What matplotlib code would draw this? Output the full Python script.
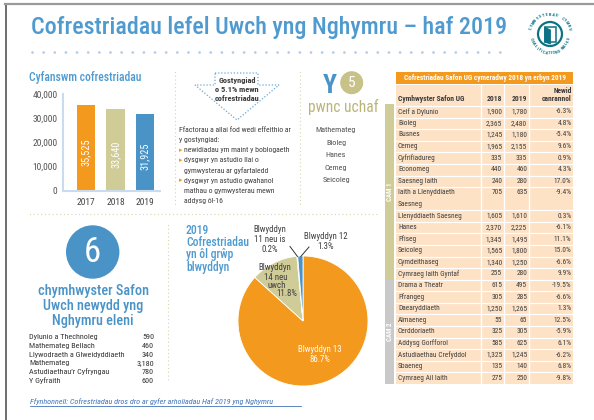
import os
import numpy as np
import matplotlib
matplotlib.use("Agg")
import matplotlib.pyplot as plt
from matplotlib import font_manager as fm
from matplotlib.font_manager import FontProperties
from matplotlib.patches import Rectangle, Circle, Polygon

years = ["2017", "2018", "2019"]
totals = [35525, 33640, 31925]
ytick_vals = [0, 10000, 20000, 30000, 40000]

top_subjects = ["Mathemateg", "Bioleg", "Hanes", "Cemeg", "Seicoleg"]

new_quals = ["Dylunio a Thechnoleg", "Mathemateg Bellach", "Llywodraeth a Glweidyddiaeth",
             "Mathemateg", "Astudiaethau\u2019r Cyfryngau", "Y Gyfraith"]
new_counts = [590, 460, 340, 3180, 780, 600]

pie_groups = ["Blwyddyn 13", "Blwyddyn 14 neu uwch", "Blwyddyn 11 neu is", "Blwyddyn 12"]
pie_shares = [86.7, 11.8, 0.2, 1.3]

subjects = ["Celf a Dylunio", "Bioleg", "Busnes", "Cemeg", "Cyfrifiadureg", "Economeg",
            "Saesneg Iaith", "Iaith a Llenyddiaeth\nSaesneg", "Llenyddiaeth Saesneg", "Hanes",
            "Ffiseg", "Seicoleg", "Cymdeithaseg", "Cymraeg Iaith Gyntaf", "Drama a Theatr",
            "Ffrangeg", "Daearyddiaeth", "Almaeneg", "Cerddoriaeth", "Addysg Gorfforol",
            "Astudiaethau Crefyddol", "Sbaeneg", "Cymraeg Ail Iaith"]
entries_2018 = [1900, 2365, 1245, 1965, 335, 440, 240, 705, 1605, 2370, 1345, 1565, 1340, 255,
                615, 305, 1250, 55, 325, 585, 1325, 135, 275]
entries_2019 = [1780, 2480, 1180, 2155, 335, 460, 280, 635, 1610, 2225, 1495, 1800, 1250, 280,
                495, 285, 1265, 65, 305, 625, 1245, 140, 250]
pct_change = [-6.3, 4.8, -5.4, 9.6, 0.9, 4.3, 17.0, -9.4, 0.3, -6.1, 11.1, 15.0, -6.6, 9.9,
              -19.5, -6.6, 1.3, 12.5, -5.9, 6.1, -6.2, 6.8, -9.8]
stage = [1] * 14 + [2] * 9

factors = [(None, "Ffactorau a allai fod wedi effeithio ar"), (None, "y gostyngiad:"),
           ("b", "newidiadau ym maint y boblogaeth"), ("b", "dysgwyr yn astudio llai o"),
           ("i", "gymwysterau ar gyfartaledd"), ("b", "dysgwyr yn astudio gwahanol"),
           ("i", "mathau o gymwysterau mewn"), ("i", "addysg \u00f4l-16")]

# ---- colours ----
TITLE_BLUE = "#4f9bd0"
BLUE = "#4a93c7"
ORANGE = "#f39a1e"
BEIGE = "#d0cc98"
OLIVE = "#bab47a"
PEACH = "#fde2c6"
GREY_STRIP = "#c9c9c9"
DARK = "#3c3c3c"
TEAL = "#0c7384"
SEP = "#d9d6ae"

# ---- pick a condensed face if one is installed ----
files = {os.path.splitext(os.path.basename(f.fname))[0].lower(): f.fname
         for f in fm.fontManager.ttflist}
face_sets = [
    ("notosans-condensed", "notosans-condensedmedium", "notosans-condensedbold", "notosans-condenseditalic"),
    ("robotocondensed-regular", "robotocondensed-medium", "robotocondensed-bold", "robotocondensed-italic"),
    ("liberationsansnarrow-regular", "liberationsansnarrow-regular", "liberationsansnarrow-bold", "liberationsansnarrow-italic"),
    ("dejavusanscondensed", "dejavusanscondensed", "dejavusanscondensed-bold", "dejavusanscondensed-oblique"),
]
FACES = None
for s in face_sets:
    if s[0] in files:
        FACES = {k: files.get(n, files[s[0]]) for k, n in zip(["reg", "med", "bold", "ital"], s)}
        break


def FP(kind, size):
    if FACES:
        return FontProperties(fname=FACES[kind], size=size)
    w = {"reg": "normal", "med": "normal", "bold": "bold", "ital": "normal"}[kind]
    st = "italic" if kind == "ital" else "normal"
    return FontProperties(family="DejaVu Sans", weight=w, style=st, size=size)


fig = plt.figure(figsize=(5.94, 4.2), dpi=100)
fig.patch.set_facecolor("white")

# charts first, the full-page layer goes on top (transparent)
ax = fig.add_axes([63 / 594, 1 - 190.7 / 420, (160 - 63) / 594, (190.7 - 94) / 420])
pax = fig.add_axes([238 / 594, 1 - 386 / 420, 130 / 594, 130 / 420])

bg = fig.add_axes([0, 0, 1, 1])
bg.set_zorder(5)
bg.patch.set_visible(False)
bg.set_xlim(0, 594)
bg.set_ylim(420, 0)
bg.axis("off")


def txt(x, y, s, size, color=DARK, kind="reg", ha="left", va="center", **kw):
    return bg.text(x, y, s, fontproperties=FP(kind, size), color=color, ha=ha, va=va, **kw)


def dotted(xs, ys, color=SEP, lw=1.0, gap=2.7):
    bg.plot(xs, ys, color=color, lw=lw, linestyle=(0, (0.01, gap)), dash_capstyle="round")


# frame
bg.plot([5.5, 5.5], [4, 420], color="#555555", lw=1.2)
bg.plot([5, 594], [3.5, 3.5], color="#9a9a9a", lw=1.6)

# title
txt(31, 34, "Cofrestriadau lefel Uwch yng Nghymru \u2013 haf 2019", 17.3, TITLE_BLUE, "med",
    va="baseline")
dotted([32, 506], [52, 52], color="#b3cde8", lw=2.0, gap=4.0)

# logo
cx, cy = 550, 34
bg.add_patch(Circle((cx, cy), 12, facecolor="white", edgecolor=TEAL, lw=1.6))
bg.add_patch(Rectangle((544.5, 27), 11.5, 15, facecolor="none", edgecolor=TEAL, lw=1.1))
bg.add_patch(Polygon([(544.5, 27), (550.5, 30), (550.5, 44), (544.5, 42)], closed=True,
                     facecolor=TEAL, edgecolor=TEAL, lw=0.6))


def arc_text(s, r, a0, a1, top):
    for ch, a in zip(s, np.linspace(a0, a1, len(s))):
        th = np.radians(a)
        rot = a - 90 if top else a + 90
        bg.text(cx + r * np.cos(th), cy - r * np.sin(th), ch, rotation=rot,
                rotation_mode="anchor", ha="center", va="center",
                fontproperties=FP("bold", 3.2), color=TEAL)


arc_text("CYMWYSTERAU CYMRU", 19.5, 165, 15, True)
arc_text("QUALIFICATIONS WALES", 19.5, 195, 345, False)

# separators
dotted([175, 175], [72, 205])
dotted([300, 300], [72, 205])
dotted([30, 377], [214, 214])
dotted([168, 168], [225, 383])

# ---- bar chart ----
txt(29, 77, "Cyfanswm cofrestriadau", 8.4, TITLE_BLUE, "med")
ax.patch.set_alpha(0)
xpos = np.arange(len(years))
ax.bar(xpos, totals, width=0.64, color=[ORANGE, BEIGE, BLUE], zorder=2)
ax.set_xlim(-0.78, 2.51)
ax.set_ylim(0, 40000)
ax.set_yticks(ytick_vals)
ax.set_yticklabels([f"{v:,}" for v in ytick_vals], fontproperties=FP("reg", 6.8), color="#555555")
ax.set_xticks(xpos)
ax.set_xticklabels(years, fontproperties=FP("reg", 6.8), color="#444444")
ax.tick_params(length=0, pad=4)
ax.tick_params(axis="x", pad=5)
for sp in ["top", "right"]:
    ax.spines[sp].set_visible(False)
for sp in ["left", "bottom"]:
    ax.spines[sp].set_color("#c9dcef")
    ax.spines[sp].set_linewidth(1.5)
for x, v in zip(xpos, totals):
    ax.text(x, v * 0.45, f"{v:,}", rotation=90, ha="center", va="center", color="white",
            fontproperties=FP("reg", 7.4))

# ---- decrease arrow ----
arrow = [(215, 73), (258, 73), (258, 85), (279, 85), (237, 120), (195, 85), (215, 85)]
bg.add_patch(Polygon(arrow, closed=True, facecolor="none", edgecolor="#6aa8d8", lw=0.9,
                     linestyle=(0, (1, 1.5))))
for i, s in enumerate(["Gostyngiad", "o 5.1% mewn", "cofrestriadau"]):
    txt(237, 80 + 9.2 * i, s, 6.0, DARK, "bold", ha="center")

for i, (mark, s) in enumerate(factors):
    y = 130 + 10.1 * i
    if mark == "b":
        bg.text(179, y, "\u25b8", fontsize=5, color=ORANGE, ha="left", va="center",
                family="DejaVu Sans")
    txt(179 if mark is None else 184.5, y, s, 5.6, DARK)

# ---- top 5 ----
txt(330, 93, "Y", 18.5, BLUE, "bold", ha="center", va="baseline")
bg.add_patch(Circle((351.7, 82.7), 10.8, color="#c8c288"))
txt(351.7, 83.2, "5", 11, "white", ha="center")
txt(343, 107, "pwnc uchaf", 11.2, OLIVE, ha="center")
for i, s in enumerate(top_subjects):
    txt(336, 130 + 12.6 * i, s, 5.9, "#505050", ha="center")

# ---- table ----
tx0, tx1 = 396, 573
cols = [480.7, 504.3, 529.3]
top, bottom = 106, 384
units = [2 if "\n" in s else 1 for s in subjects]
h = (bottom - top) / sum(units)
bg.add_patch(Rectangle((tx0, 71.5), tx1 - tx0, 12, color=ORANGE, lw=0))
txt((tx0 + tx1) / 2, 77.6, "Cofrestriadau Safon UG cymeradwy 2018 yn erbyn 2019", 5.2,
    "white", "bold", ha="center")
bg.add_patch(Rectangle((tx0, 84.5), tx1 - tx0, bottom - 84.5, color=PEACH, lw=0))
txt(398, 99, "Cymhwyster Safon UG", 5.4, DARK, "bold")
txt(502.3, 99, "2018", 5.4, DARK, "bold", ha="right")
txt(527.3, 99, "2019", 5.4, DARK, "bold", ha="right")
txt(571.5, 90.7, "Newid", 5.4, DARK, "bold", ha="right")
txt(571.5, 99, "canrannol", 5.4, DARK, "bold", ha="right")

y = top
stage_span = {}
for name, u, a, b, p, st in zip(subjects, units, entries_2018, entries_2019, pct_change, stage):
    bg.plot([tx0, tx1], [y, y], color="white", lw=0.9)
    lines = name.split("\n")
    for k, ln in enumerate(lines):
        txt(398, y + h * (k + 0.5), ln, 5.3, DARK)
    yc = y + h * 0.5
    txt(502.3, yc, f"{a:,}", 5.3, DARK, ha="right")
    txt(527.3, yc, f"{b:,}", 5.3, DARK, ha="right")
    txt(571.5, yc, f"{p:.1f}%", 5.3, DARK, ha="right")
    lo, hi = stage_span.get(st, (y, y))
    stage_span[st] = (min(lo, y), y + h * u)
    y += h * u
for cxl in cols:
    bg.plot([cxl, cxl], [84.5, bottom], color="white", lw=1.0)

for st, col in [(1, BEIGE), (2, GREY_STRIP)]:
    lo, hi = stage_span[st]
    if st == 1:
        lo = 104
    bg.add_patch(Rectangle((385, lo), 9, hi - lo, color=col, lw=0))
    txt(389.5, (lo + hi) / 2, f"CAM {st}", 5.0, "white", "bold", ha="center", rotation=90)

# ---- new qualifications ----
bg.add_patch(Circle((92.7, 252), 26, color=BLUE))
txt(92.7, 253, "6", 25, "white", ha="center")
for i, s in enumerate(["chymhwyster Safon", "Uwch newydd yng", "Nghymru eleni"]):
    txt(93, 291 + 14.8 * i, s, 10.3, BLUE, "med", ha="center")
for i, (q, n) in enumerate(zip(new_quals, new_counts)):
    yy = 337.3 + 8.7 * i
    txt(29, yy, q, 5.9, "#333333")
    txt(154, yy, f"{n:,}", 5.9, "#333333", ha="right")

# ---- pie ----
for i, s in enumerate(["2019", "Cofrestriadau", "yn \u00f4l gr\u0175p", "blwyddyn"]):
    txt(186, 230 + 12.4 * i, s, 8.4, TITLE_BLUE, "med")
pax.pie(pie_shares, colors=[ORANGE, BEIGE, "#2f5f8c", BLUE], startangle=90, counterclock=False,
        wedgeprops=dict(edgecolor="white", linewidth=0.6))
pax.set_xlim(-1, 1)
pax.set_ylim(-1, 1)

lab = dict(zip(pie_groups, pie_shares))
txt(320, 349, "Blwyddyn 13", 6.3, "white", ha="center")
txt(320, 359, f"{lab['Blwyddyn 13']}%", 6.3, "white", ha="center")
for s, yy, xx in [("Blwyddyn", 268, 275), ("14 neu", 277, 276), ("uwch", 285.5, 277),
                  (f"{lab['Blwyddyn 14 neu uwch']}%", 294, 287)]:
    txt(xx, yy, s, 6.3, DARK, ha="center")
for s, yy in [("Blwyddyn", 230), ("11 neu is", 239.5), (f"{lab['Blwyddyn 11 neu is']}%", 249)]:
    txt(270, yy, s, 6.3, DARK, ha="center")
txt(326, 236.5, "Blwyddyn 12", 6.3, DARK, ha="center")
txt(326, 246.5, f"{lab['Blwyddyn 12']}%", 6.3, DARK, ha="center")
bg.plot([290, 297.5], [246.5, 256.5], color="#333333", lw=0.7)
bg.plot([309, 300.8], [247, 256.5], color="#333333", lw=0.7)

# source
txt(29.5, 402, "Ffynhonnell: Cofrestriadau dros dro ar gyfer arholiadau Haf 2019 yng Nghymru",
    5.9, "#3f73b8", "ital")
bg.plot([29.5, 301], [405.5, 405.5], color="#3f73b8", lw=0.6)

fig.savefig("out.png", dpi=100)
